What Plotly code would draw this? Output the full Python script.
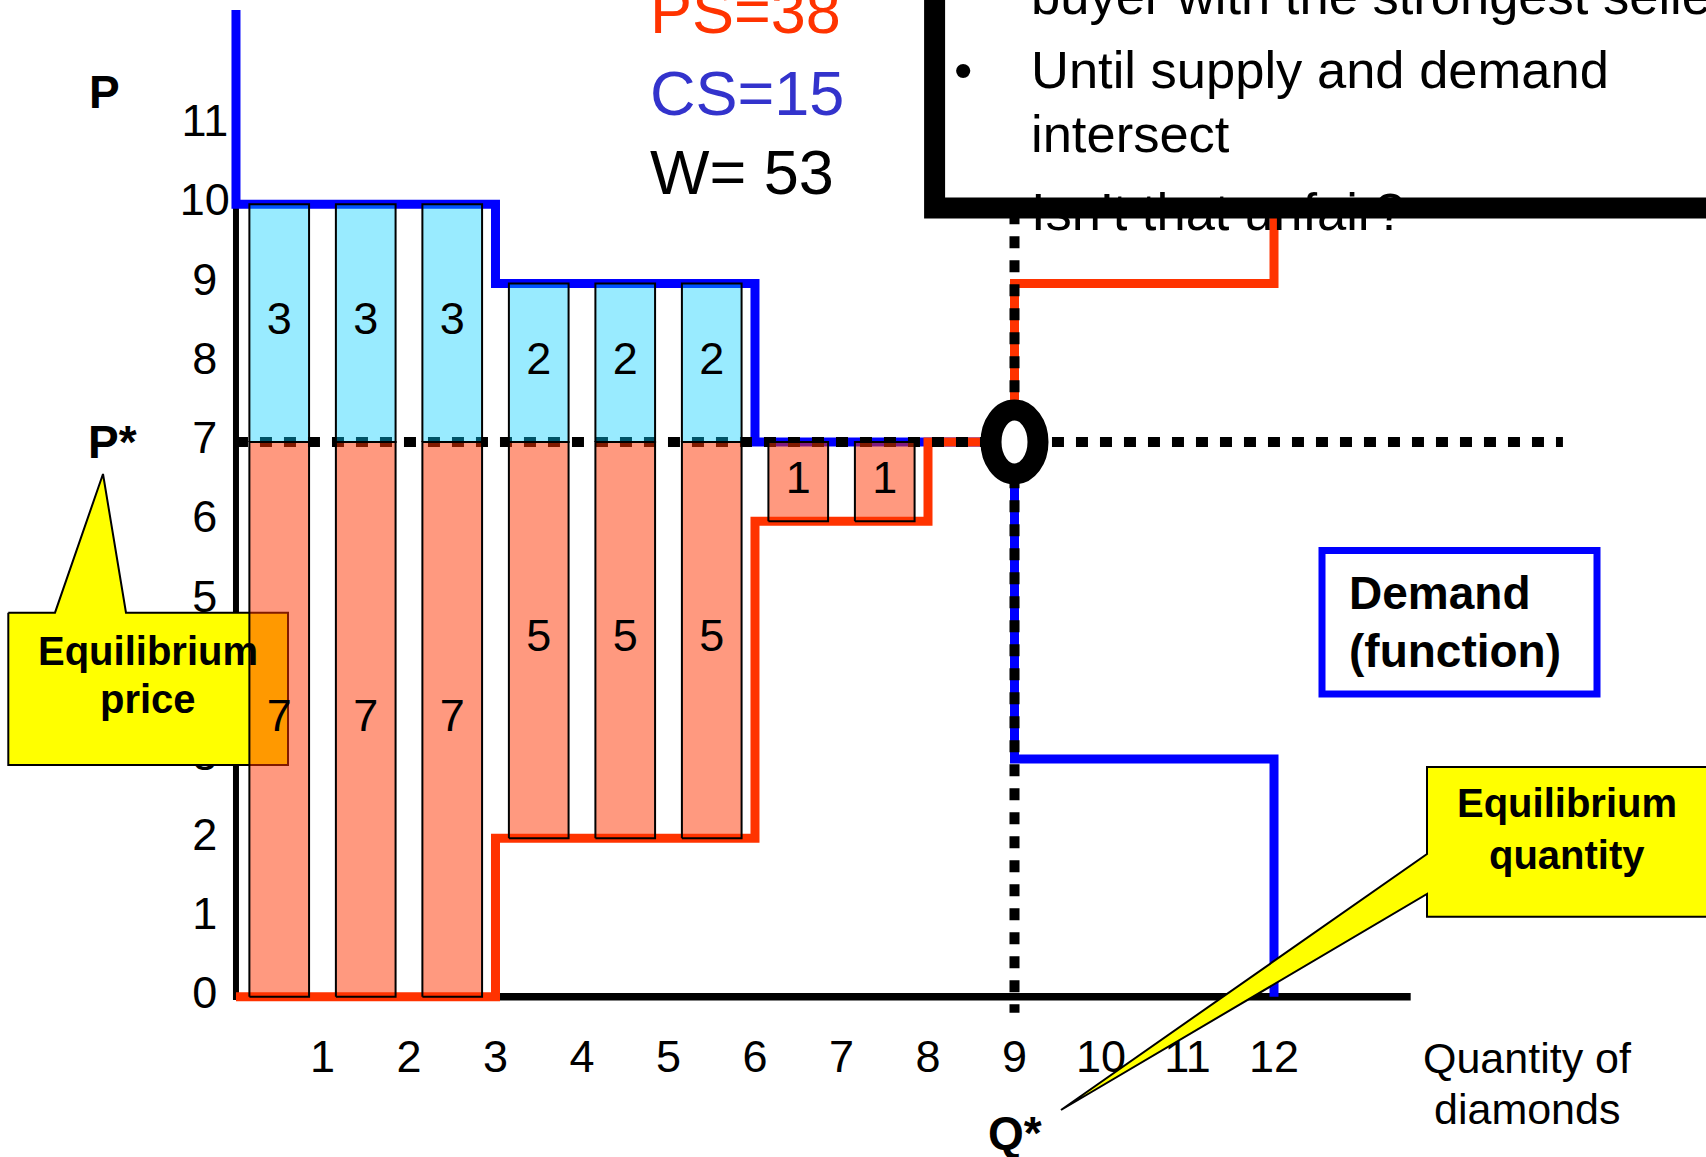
import plotly.graph_objects as go

# ---- market data (one unit per buyer / seller) ----
units = list(range(1, 13))
demand_levels = [10, 10, 10, 9, 9, 9, 7, 7, 7, 3, 3, 3]   # willingness to pay
supply_levels = [0, 0, 0, 2, 2, 2, 6, 6, 7, 9, 9, 9]      # sellers' costs
p_star = 7
q_star = 9
cs_values = [3, 3, 3, 2, 2, 2]            # consumer surplus of traded units
ps_values = [7, 7, 7, 5, 5, 5, 1, 1]      # producer surplus of traded units
ps_total = 38
cs_total = 15
w_total = 53
y_tick_values = list(range(0, 12))
x_tick_values = list(range(1, 13))

# ---- styling ----
FONT = "Liberation Sans, Arial, Helvetica, sans-serif"
BLUE = "#0000FF"
RED = "#FF3300"
W, H = 1706, 1157
X_RANGE = [-2.728, 16.994]
Y_RANGE = [-2.021, 12.576]
BAR_W = 0.69
DEMAND_TOP = 12.45
SUPPLY_TOP = 10.5
DOT_END_Q = 15.34
AXIS_END_Q = 13.58


def px(x):
    return x / W


def py(y):
    return 1 - y / H


def paper_to_data(xp, yp):
    return (X_RANGE[0] + xp * (X_RANGE[1] - X_RANGE[0]),
            Y_RANGE[0] + yp * (Y_RANGE[1] - Y_RANGE[0]))


def step_path(levels, start, end):
    xs, ys = [0], [start]
    for i, lv in enumerate(levels):
        xs += [i, i + 1]
        ys += [lv, lv]
    xs.append(len(levels))
    ys.append(end)
    return xs, ys


def rects(centers, bottoms, tops):
    xs, ys = [], []
    for c, b, t in zip(centers, bottoms, tops):
        l, r = c - BAR_W / 2, c + BAR_W / 2
        xs += [l, l, r, r, l, None]
        ys += [b, t, t, b, b, None]
    return xs, ys


fig = go.Figure()

# tick labels (kept as text traces so callouts can sit on top of them)
fig.add_trace(go.Scatter(
    x=[-0.36] * len(y_tick_values), y=y_tick_values,
    text=[str(v) for v in y_tick_values], mode="text",
    textposition="middle center",
    textfont=dict(family=FONT, size=45, color="black")))
fig.add_trace(go.Scatter(
    x=x_tick_values, y=[-0.81] * len(x_tick_values),
    text=[str(v) for v in x_tick_values], mode="text",
    textposition="middle center",
    textfont=dict(family=FONT, size=45, color="black")))

# "Equilibrium price" callout (below the surplus bars)
price_callout_px = [(8.3, 612.7), (55, 612.7), (103, 474), (126, 612.7),
                    (288, 612.7), (288, 765), (8.3, 765), (8.3, 612.7)]
cx, cy = zip(*[paper_to_data(px(a), py(b)) for a, b in price_callout_px])
fig.add_trace(go.Scatter(x=list(cx), y=list(cy), mode="lines", fill="toself",
                         fillcolor="#FFFF00",
                         line=dict(color="black", width=2)))

# demand and supply step functions
dx, dy = step_path(demand_levels, DEMAND_TOP, 0)
fig.add_trace(go.Scatter(x=dx, y=dy, mode="lines",
                         line=dict(color=BLUE, width=9)))
sx, sy = step_path(supply_levels, 0, SUPPLY_TOP)
fig.add_trace(go.Scatter(x=sx, y=sy, mode="lines",
                         line=dict(color=RED, width=9)))

# equilibrium guide lines
fig.add_trace(go.Scatter(x=[0, DOT_END_Q], y=[p_star, p_star], mode="lines",
                         line=dict(color="black", width=10, dash="12px,12px")))
fig.add_trace(go.Scatter(x=[q_star, q_star], y=[10.2, -0.2], mode="lines",
                         line=dict(color="black", width=10, dash="12px,12px")))

# producer surplus bars
ps_centers = [u - 0.5 for u in units[:len(ps_values)]]
ps_bottoms = [p_star - v for v in ps_values]
bx, by = rects(ps_centers, ps_bottoms, [p_star] * len(ps_values))
fig.add_trace(go.Scatter(x=bx, y=by, mode="lines", fill="toself",
                         fillcolor="rgba(255,51,0,0.5)",
                         line=dict(color="black", width=2)))

# consumer surplus bars
cs_centers = [u - 0.5 for u in units[:len(cs_values)]]
cs_tops = [p_star + v for v in cs_values]
bx, by = rects(cs_centers, [p_star] * len(cs_values), cs_tops)
fig.add_trace(go.Scatter(x=bx, y=by, mode="lines", fill="toself",
                         fillcolor="rgba(0,204,255,0.4)",
                         line=dict(color="black", width=2)))

# surplus values written in the bars
fig.add_trace(go.Scatter(
    x=ps_centers + cs_centers,
    y=[p_star - v / 2 for v in ps_values] + [p_star + v / 2 for v in cs_values],
    text=[str(v) for v in ps_values + cs_values], mode="text",
    textposition="middle center",
    textfont=dict(family=FONT, size=45, color="black")))

shapes = [
    # axes
    dict(type="line", xref="x", yref="y", x0=0, x1=AXIS_END_Q, y0=0, y1=0,
         line=dict(color="black", width=7.5), layer="below"),
    dict(type="line", xref="x", yref="y", x0=0, x1=0, y0=-0.04, y1=10,
         line=dict(color="black", width=6), layer="below"),
    # slide text box
    dict(type="rect", xref="paper", yref="paper", x0=px(934.6), x1=1.1,
         y0=py(208), y1=1.2, fillcolor="white",
         line=dict(color="black", width=21), layer="above"),
    # demand label box
    dict(type="rect", xref="paper", yref="paper", x0=px(1322), x1=px(1597),
         y0=py(694), y1=py(550.5), fillcolor="white",
         line=dict(color=BLUE, width=7), layer="above"),
    # equilibrium ring
    dict(type="circle", xref="x", yref="y", xsizemode="pixel",
         ysizemode="pixel", xanchor=q_star, yanchor=p_star,
         x0=-23.5, x1=23.5, y0=-32, y1=32, fillcolor="white",
         line=dict(color="black", width=21), layer="above"),
]

# "Equilibrium quantity" callout
qc = [(1427, 767), (1720, 767), (1720, 916.7), (1427, 916.7), (1427, 894),
      (1061, 1110), (1427, 854)]
path = "M " + " L ".join(f"{px(a):.5f},{py(b):.5f}" for a, b in qc) + " Z"
shapes.append(dict(type="path", xref="paper", yref="paper", path=path,
                   fillcolor="#FFFF00", line=dict(color="black", width=2),
                   layer="above"))


def note(text, x, y, size, color="black", bold=False, xanchor="center",
         xref="paper", yref="paper"):
    if bold:
        text = f"<b>{text}</b>"
    return dict(text=text, x=x, y=y, xref=xref, yref=yref, xanchor=xanchor,
                yanchor="middle", showarrow=False,
                font=dict(family=FONT, size=size, color=color))


annotations = [
    note(f"PS={ps_total}", px(648), py(10.6), 63, RED, xanchor="left"),
    note(f"CS={cs_total}", px(648), py(93), 63, "#3333CC", xanchor="left"),
    note(f"W= {w_total}", px(648), py(171.6), 63, xanchor="left"),
    note("P", px(104), py(92), 46, bold=True),
    note("P*", px(112), p_star, 46, bold=True, yref="y"),
    note("Q*", q_star, py(1133), 46, bold=True, xref="x"),
    note("Quantity of", px(1527), py(1057.7), 43),
    note("diamonds", px(1527), py(1109), 43),
    note("Equilibrium", px(147.5), py(651), 40, bold=True),
    note("price", px(147.5), py(699), 40, bold=True),
    note("Equilibrium", px(1567), py(803), 40, bold=True),
    note("quantity", px(1567), py(855), 40, bold=True),
    note("Demand", px(1347), py(593), 46, bold=True, xanchor="left"),
    note("(function)", px(1347), py(651), 46, bold=True, xanchor="left"),
    note("buyer with the strongest seller", px(1029), py(-5), 52.5,
         xanchor="left"),
    note("•", px(963), py(70), 52.5),
    note("Until supply and demand", px(1029), py(70), 52.5, xanchor="left"),
    note("intersect", px(1029), py(134), 52.5, xanchor="left"),
    note("Isn’t that unfair?", px(1029), py(211), 52.5, xanchor="left"),
]

fig.update_layout(
    width=W, height=H, autosize=False,
    margin=dict(l=0, r=0, t=0, b=0, pad=0),
    paper_bgcolor="white", plot_bgcolor="white",
    showlegend=False, hovermode=False,
    xaxis=dict(range=X_RANGE, visible=False, fixedrange=True),
    yaxis=dict(range=Y_RANGE, visible=False, fixedrange=True),
    shapes=shapes, annotations=annotations,
)

fig.write_html("out.html")
